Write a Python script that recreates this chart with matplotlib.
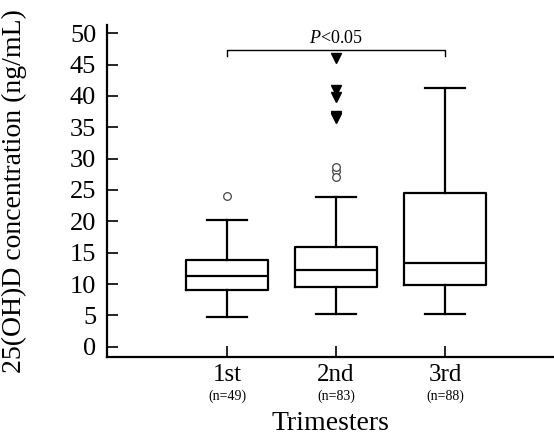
import matplotlib
matplotlib.use("Agg")
import matplotlib.pyplot as plt
from matplotlib.transforms import blended_transform_factory

plt.rcParams['font.family'] = ['Liberation Serif', 'DejaVu Serif']
plt.rcParams['mathtext.fontset'] = 'custom'
plt.rcParams['mathtext.rm'] = 'Liberation Serif'
plt.rcParams['mathtext.it'] = 'Liberation Serif:italic'

categories = ["1st", "2nd", "3rd"]
counts = ["(n=49)", "(n=83)", "(n=88)"]
whislo = [4.7, 5.2, 5.2]
q1 = [9.0, 9.45, 9.8]
med = [11.3, 12.3, 13.4]
q3 = [13.85, 15.9, 24.5]
whishi = [20.2, 23.9, 41.3]
outliers = [[24.0], [28.1, 28.7, 27.0], []]
extremes = [[], [46.0, 40.9, 39.9, 36.4, 36.7, 36.8], []]
yticks = [0, 5, 10, 15, 20, 25, 30, 35, 40, 45, 50]

fig = plt.figure(figsize=(5.54, 4.36), dpi=100)
ax = fig.add_axes([0.1937, 0.1805, 0.8063, 0.762])

positions = list(range(1, len(categories) + 1))
stats = []
for i in range(len(categories)):
    stats.append(dict(whislo=whislo[i], q1=q1[i], med=med[i], q3=q3[i],
                      whishi=whishi[i], fliers=outliers[i], label=categories[i]))

lw = 1.6
ax.bxp(stats, positions=positions, widths=0.75, showfliers=True,
       boxprops=dict(color='black', linewidth=lw),
       medianprops=dict(color='black', linewidth=lw),
       whiskerprops=dict(color='black', linewidth=lw),
       capprops=dict(color='black', linewidth=lw),
       capwidths=0.37,
       flierprops=dict(marker='o', markerfacecolor='white', markeredgecolor='#444444',
                       markersize=5.5, markeredgewidth=0.9))

for p, ex in zip(positions, extremes):
    if ex:
        ax.plot([p] * len(ex), ex, linestyle='none', marker='v', color='black',
                markersize=7)

# significance bracket
ax.plot([1, 1, 3, 3], [46.3, 47.4, 47.4, 46.3], color='black', linewidth=1.0)
ax.text(2, 47.8, r"$\mathit{P}$<0.05", ha='center', va='bottom', fontsize=13)

ax.set_xlim(-0.1, 4.0)
ax.set_ylim(-1.69, 51.3)
ax.set_yticks(yticks)
ax.set_yticklabels([str(t) for t in yticks], fontsize=19)
ax.set_xticks(positions)
ax.set_xticklabels(categories, fontsize=18)
ax.tick_params(direction='in', length=8, width=1.2)
ax.tick_params(axis='y', pad=8)
ax.tick_params(axis='x', pad=5)

trans = blended_transform_factory(ax.transData, ax.transAxes)
for p, c in zip(positions, counts):
    ax.text(p, -0.118, c, transform=trans, ha='center', va='center', fontsize=10)

ax.set_xlabel("Trimesters", fontsize=20, labelpad=18)
ax.set_ylabel("25(OH)D concentration (ng/mL)", fontsize=20)
ax.yaxis.set_label_coords(-0.18, 0.5)

for s in ['top', 'right']:
    ax.spines[s].set_visible(False)
for s in ['left', 'bottom']:
    ax.spines[s].set_linewidth(1.6)

fig.savefig("out.png", dpi=100)
